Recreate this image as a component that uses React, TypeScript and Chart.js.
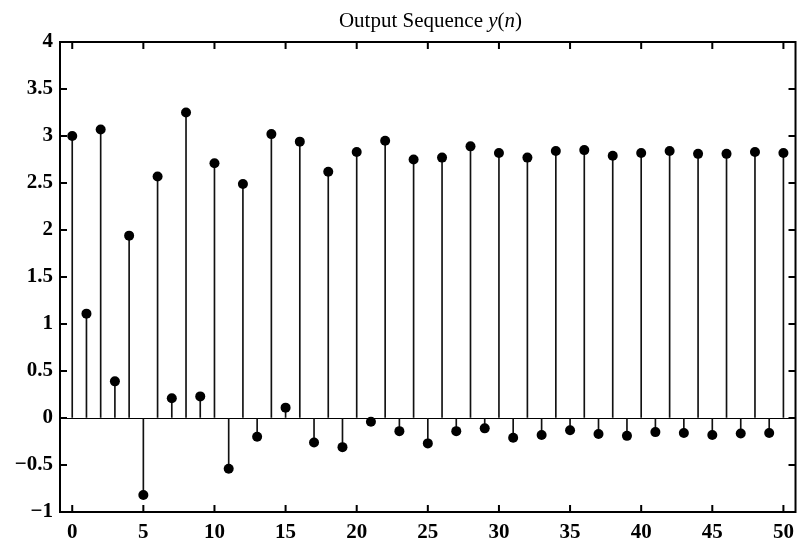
import React, { useEffect, useRef } from "react";
import { Chart, registerables } from "chart.js";

Chart.register(...registerables);

// ---- data ----
const nValues = [
  0, 1, 2, 3, 4, 5, 6, 7, 8, 9, 10, 11, 12, 13, 14, 15, 16, 17, 18, 19, 20, 21, 22, 23, 24, 25,
  26, 27, 28, 29, 30, 31, 32, 33, 34, 35, 36, 37, 38, 39, 40, 41, 42, 43, 44, 45, 46, 47, 48, 49, 50,
];
const yValues = [
  3.0, 1.11, 3.07, 0.39, 1.94, -0.82, 2.57, 0.21, 3.25, 0.23, 2.71, -0.54, 2.49, -0.2, 3.02, 0.11,
  2.94, -0.26, 2.62, -0.31, 2.83, -0.04, 2.95, -0.14, 2.75, -0.27, 2.77, -0.14, 2.89, -0.11, 2.82,
  -0.21, 2.77, -0.18, 2.84, -0.13, 2.85, -0.17, 2.79, -0.19, 2.82, -0.15, 2.84, -0.16, 2.81, -0.18,
  2.81, -0.165, 2.83, -0.16, 2.82,
];
const xTickValues = [0, 5, 10, 15, 20, 25, 30, 35, 40, 45, 50];
const yTickValues = [-1, -0.5, 0, 0.5, 1, 1.5, 2, 2.5, 3, 3.5, 4];
const titleMain = "Output Sequence ";

const FONT = "'Liberation Serif', 'Times New Roman', Times, serif";
const TICK_LEN = 7;

const framePlugin = {
  id: "frameTicks",
  afterDraw(chart: any) {
    const { ctx, chartArea, scales } = chart;
    const { left, right, top, bottom } = chartArea;
    const xs = scales.x;
    const ys = scales.y;
    ctx.save();
    ctx.strokeStyle = "#000";
    ctx.lineWidth = 2;
    ctx.beginPath();
    xs.ticks.forEach((t: any) => {
      const px = xs.getPixelForValue(t.value);
      ctx.moveTo(px, bottom);
      ctx.lineTo(px, bottom - TICK_LEN);
      ctx.moveTo(px, top);
      ctx.lineTo(px, top + TICK_LEN);
    });
    ys.ticks.forEach((t: any) => {
      const py = ys.getPixelForValue(t.value);
      ctx.moveTo(left, py);
      ctx.lineTo(left + TICK_LEN, py);
      ctx.moveTo(right, py);
      ctx.lineTo(right - TICK_LEN, py);
    });
    ctx.stroke();
    ctx.strokeRect(left, top, right - left, bottom - top);
    ctx.restore();
  },
};

function fmt(v: number) {
  return v < 0 ? "\u2212" + String(Math.abs(v)) : String(v);
}

export default function App() {
  const canvasRef = useRef<HTMLCanvasElement | null>(null);

  useEffect(() => {
    document.body.style.margin = "0";
    const canvas = canvasRef.current;
    if (!canvas) return;
    const points = nValues.map((n, i) => ({ x: n, y: yValues[i] }));
    const chart = new Chart(canvas, {
      type: "scatter",
      data: {
        datasets: [
          {
            type: "bar",
            data: points,
            backgroundColor: "#111",
            borderWidth: 0,
            barThickness: 1,
            grouped: false,
            order: 2,
          } as any,
          {
            type: "scatter",
            data: points,
            pointRadius: 5,
            pointBackgroundColor: "#000",
            pointBorderWidth: 0,
            pointHoverRadius: 5,
            showLine: false,
            order: 1,
          } as any,
        ],
      },
      options: {
        responsive: false,
        animation: false,
        events: [],
        layout: { padding: { left: 0, top: 42, right: 1, bottom: 0 } },
        plugins: {
          legend: { display: false },
          tooltip: { enabled: false },
          title: { display: false },
        },
        scales: {
          x: {
            type: "linear",
            min: -0.86,
            max: 50.85,
            offset: false,
            grid: { display: false, drawTicks: false },
            border: { display: false },
            afterBuildTicks: (scale: any) => {
              scale.ticks = xTickValues.map((v) => ({ value: v }));
            },
            afterFit: (scale: any) => {
              scale.height = 30;
            },
            ticks: {
              autoSkip: false,
              maxRotation: 0,
              padding: 8,
              color: "#000",
              font: { family: FONT, size: 21, weight: "bold" },
              callback: (v: any) => fmt(Number(v)),
            },
          },
          y: {
            type: "linear",
            min: -1,
            max: 4,
            grid: {
              drawTicks: false,
              lineWidth: 1,
              color: (c: any) => (c.tick && c.tick.value === 0 ? "#000" : "rgba(0,0,0,0)"),
            },
            border: { display: false },
            afterBuildTicks: (scale: any) => {
              scale.ticks = yTickValues.map((v) => ({ value: v }));
            },
            afterFit: (scale: any) => {
              scale.width = 60;
            },
            ticks: {
              autoSkip: false,
              padding: 7,
              color: "#000",
              font: { family: FONT, size: 21, weight: "bold" },
              callback: (v: any) => fmt(Number(v)),
            },
          },
        },
      } as any,
      plugins: [framePlugin],
    });
    return () => chart.destroy();
  }, []);

  return (
    <div style={{ position: "relative", width: 802, height: 542 }}>
      <canvas ref={canvasRef} width={802} height={542} style={{ display: "block" }} />
      <div
        style={{
          position: "absolute",
          top: 10,
          left: 60,
          width: 741,
          textAlign: "center",
          fontFamily: FONT,
          fontSize: 21,
          lineHeight: "21px",
          color: "#000",
          whiteSpace: "nowrap",
        }}
      >
        {titleMain}
        <i>y</i>(<i>n</i>)
      </div>
    </div>
  );
}
